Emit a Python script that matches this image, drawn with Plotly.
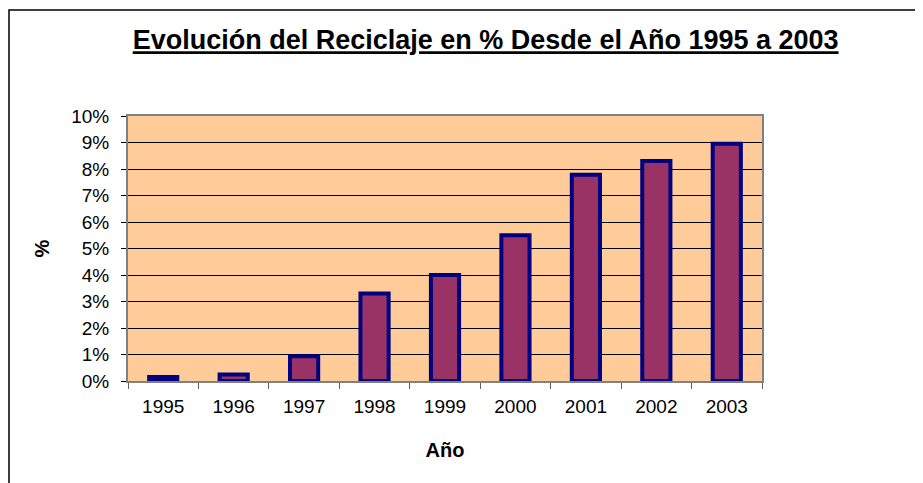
import plotly.graph_objects as go

years = ["1995", "1996", "1997", "1998", "1999", "2000", "2001", "2002", "2003"]
reciclaje = [0.0015, 0.0025, 0.0093, 0.033, 0.040, 0.055, 0.0778, 0.083, 0.0895]

fig = go.Figure()

fig.add_trace(go.Bar(
    x=years,
    y=reciclaje,
    width=0.4,
    marker=dict(color="#993366", line=dict(color="#000080", width=4)),
    hovertemplate="%{x}: %{y:.1%}<extra></extra>",
))

# the page body adds an 8px margin, so the figure is 8px smaller than the window
fig.update_layout(
    width=915,
    height=475,
    margin=dict(l=120, r=161, t=108, b=102),
    paper_bgcolor="white",
    plot_bgcolor="#FFCC99",
    showlegend=False,
    font=dict(family="Liberation Sans, Arial, sans-serif", size=19, color="black"),
    title=dict(
        text="<b><u>Evolución del Reciclaje en % Desde el Año 1995 a 2003</u></b>",
        x=0.522, xanchor="center", y=0.933, yanchor="middle",
        font=dict(size=27, color="black"),
    ),
    xaxis=dict(
        type="category",
        title=dict(text="<b>Año</b>", font=dict(size=20), standoff=27),
        tickson="boundaries",
        ticks="outside",
        ticklen=6,
        tickcolor="#606060",
        ticklabelstandoff=7,
        showline=True,
        linecolor="#808080",
        linewidth=2,
        mirror=True,
        showgrid=False,
    ),
    yaxis=dict(
        range=[0, 0.10],
        dtick=0.01,
        tickformat=".0%",
        title=dict(text="<b>%</b>", font=dict(size=20), standoff=16),
        ticks="outside",
        ticklen=5,
        tickcolor="black",
        ticklabelstandoff=8,
        showline=True,
        linecolor="#808080",
        linewidth=2,
        mirror=True,
        showgrid=True,
        gridcolor="black",
        gridwidth=1,
        zeroline=False,
    ),
    shapes=[
        dict(
            type="rect", xref="paper", yref="paper",
            x0=-0.1877, x1=1.5, y0=-0.6, y1=1.4,
            line=dict(color="black", width=1.5),
            fillcolor="rgba(0,0,0,0)",
            layer="below",
        )
    ],
)

fig.write_html("out.html")
